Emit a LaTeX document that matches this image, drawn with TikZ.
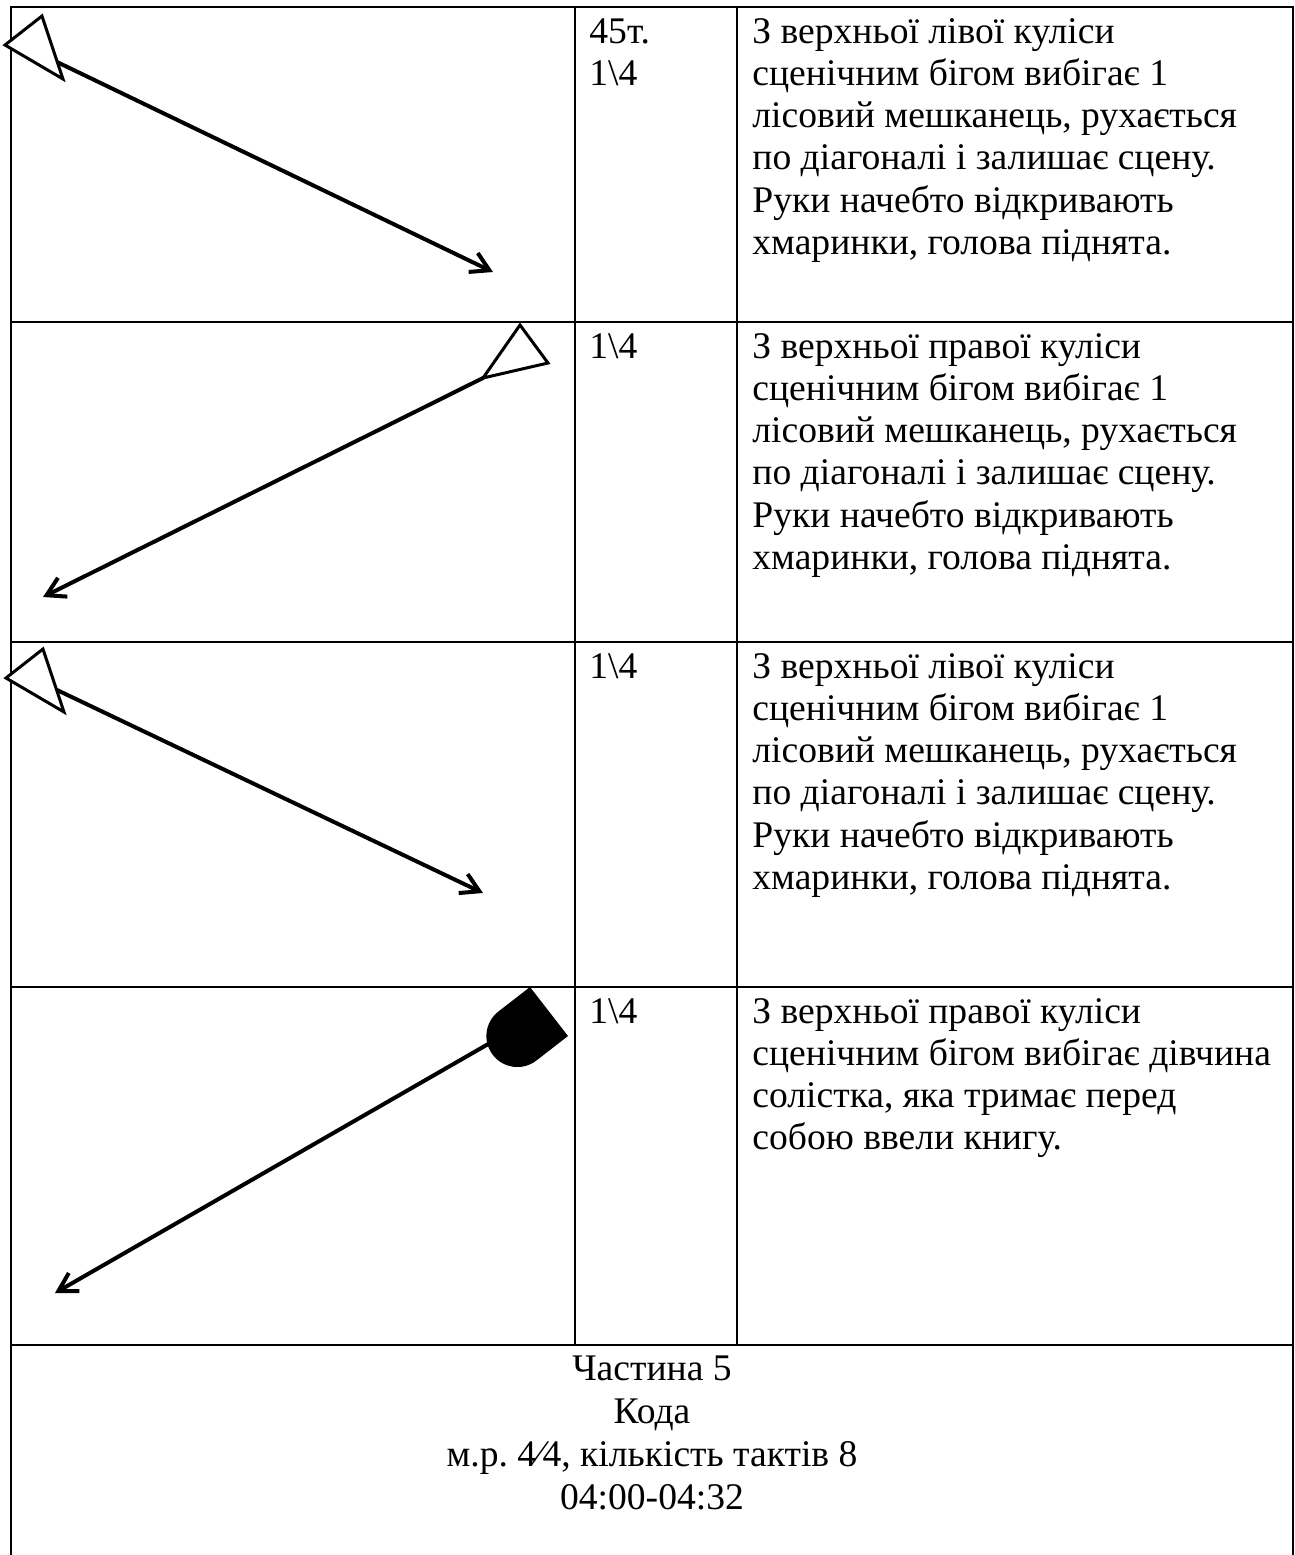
\documentclass[tikz,border=0pt]{standalone}
\usepackage{fontspec}
\setmainfont{Liberation Serif}
\frenchspacing
\usetikzlibrary{arrows.meta}
\begin{document}
\begin{tikzpicture}[x=0.5pt,y=-0.5pt,
  rule/.style={line width=1.3pt},
  route/.style={line width=2pt, line cap=round, line join=round,
    -{Straight Barb[length=9pt,width=10.5pt]}},
  dancer/.style={line width=1.5pt, fill=white, line join=miter},
  soloist/.style={fill=black},
  cell/.style={anchor=base west, inner sep=0pt},
  capt/.style={anchor=base, inner sep=0pt},
]
\useasboundingbox (0,0) rectangle (1295,1555);

% table frame
\draw[rule] (11,1555) -- (11,7) -- (1293,7) -- (1293,1555);
\draw[rule] (11,322) -- (1293,322);
\draw[rule] (11,642) -- (1293,642);
\draw[rule] (11,987) -- (1293,987);
\draw[rule] (11,1345) -- (1293,1345);
\draw[rule] (575,7) -- (575,1345);
\draw[rule] (737,7) -- (737,1345);

% movement paths
\coordinate (a1) at (57,62);    \coordinate (b1) at (493,272);
\coordinate (a2) at (483,378);  \coordinate (b2) at (43,597);
\coordinate (a3) at (57,690);   \coordinate (b3) at (483,893);
\coordinate (a4) at (530,1020); \coordinate (b4) at (55,1293);
\draw[route] (a1) -- (b1);
\draw[route] (a2) -- (b2);
\draw[route] (a3) -- (b3);
\draw[route] (a4) -- (b4);

% dancers
\draw[dancer] (5,45) -- (42,16) -- (63,79) -- cycle;
\draw[dancer] (520,325) -- (548,363) -- (483,378) -- cycle;
\draw[dancer] (6,678) -- (43,649) -- (64,712) -- cycle;
\fill[soloist] (530,987) -- (568,1036) -- (536.4,1060.5)
  arc[start angle=52.2, end angle=232.2, radius=31] -- cycle;

% texts
\newcommand{\celltext}[1]{\parbox[t]{600pt}{\fontsize{18.8pt}{21.15pt}\selectfont\raggedright #1}}
\node[cell] (t1) at (589,43) {\celltext{45т.\\1\textbackslash 4}};
\node[cell] (t2) at (589,358) {\celltext{1\textbackslash 4}};
\node[cell] (t3) at (589,678) {\celltext{1\textbackslash 4}};
\node[cell] (t4) at (589,1023) {\celltext{1\textbackslash 4}};

\node[cell] (d1) at (752,43) {\celltext{З верхньої лівої куліси\\сценічним бігом вибігає 1\\лісовий мешканець, рухається\\по діагоналі і залишає сцену.\\Руки начебто відкривають\\хмаринки, голова піднята.}};
\node[cell] (d2) at (752,358) {\celltext{З верхньої правої куліси\\сценічним бігом вибігає 1\\лісовий мешканець, рухається\\по діагоналі і залишає сцену.\\Руки начебто відкривають\\хмаринки, голова піднята.}};
\node[cell] (d3) at (752,678) {\celltext{З верхньої лівої куліси\\сценічним бігом вибігає 1\\лісовий мешканець, рухається\\по діагоналі і залишає сцену.\\Руки начебто відкривають\\хмаринки, голова піднята.}};
\node[cell] (d4) at (752,1023) {\celltext{З верхньої правої куліси\\сценічним бігом вибігає дівчина\\солістка, яка тримає перед\\собою ввели книгу.}};

\node[capt] (c) at (652,1380) {\parbox[t]{600pt}{\fontsize{18.8pt}{21.5pt}\selectfont\centering Частина 5\\Кода\\м.р. 4⁄4, кількість тактів 8\\04:00-04:32}};
\end{tikzpicture}
\end{document}
